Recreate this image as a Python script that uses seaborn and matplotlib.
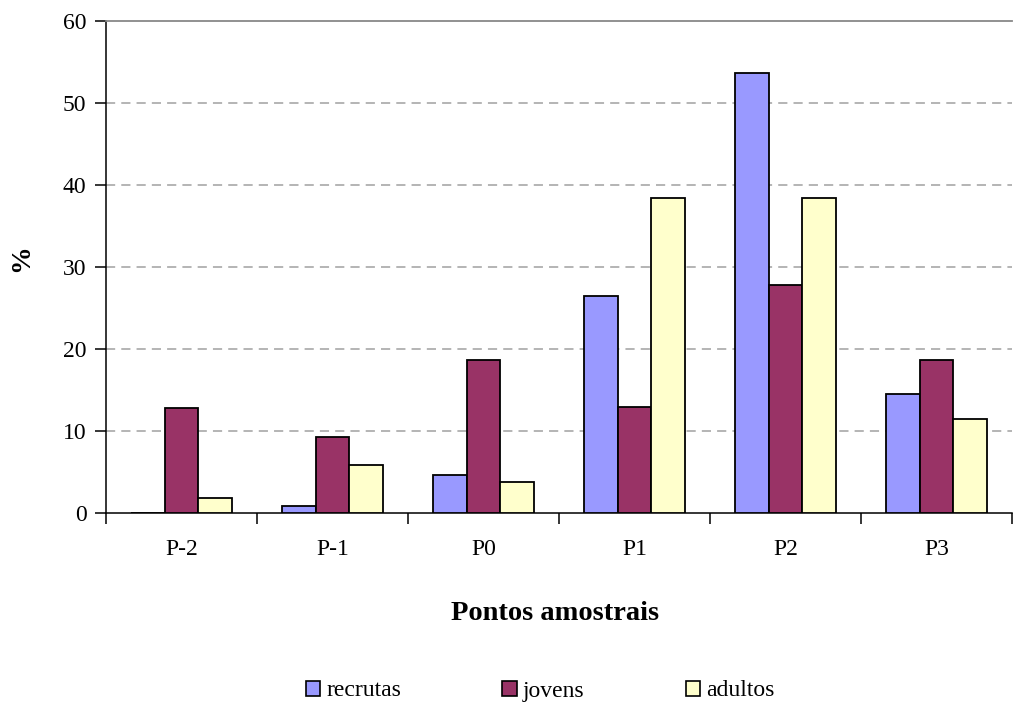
import matplotlib
matplotlib.use("Agg")
import matplotlib.pyplot as plt
import seaborn as sns
import pandas as pd
import numpy as np

# Sampling points and the share (%) of each size class
pontos = ["P-2", "P-1", "P0", "P1", "P2", "P3"]
classes = ["recrutas", "jovens", "adultos"]
recrutas = [0.0, 0.9, 4.6, 26.5, 53.7, 14.5]
jovens = [12.8, 9.3, 18.6, 12.9, 27.8, 18.6]
adultos = [1.8, 5.8, 3.8, 38.4, 38.4, 11.5]
cores = ["#9999FF", "#993366", "#FFFFCC"]

df = pd.DataFrame({
    "ponto": pontos * 3,
    "classe": [c for c in classes for _ in pontos],
    "valor": recrutas + jovens + adultos,
})

sns.set_style("white")
plt.rcParams["font.family"] = ["Liberation Serif", "DejaVu Serif"]
plt.rcParams["text.color"] = "black"
plt.rcParams["xtick.color"] = "black"
plt.rcParams["ytick.color"] = "black"
plt.rcParams["axes.labelcolor"] = "black"

fig = plt.figure(figsize=(10.13, 7.02), dpi=100)
ax = fig.add_axes([106 / 1013, 1 - 513 / 702, 906 / 1013, 492 / 702])

sns.barplot(data=df, x="ponto", y="valor", hue="classe", order=pontos,
            hue_order=classes, palette=cores, width=0.675, dodge=True,
            edgecolor="black", linewidth=1.3, saturation=1, ax=ax,
            legend=False, zorder=3)

ax.set_xlim(-0.5, len(pontos) - 0.5)
ax.set_ylim(0, 60)
ax.set_yticks(np.arange(0, 61, 10))

# dashed horizontal grid
for v in range(10, 60, 10):
    ax.axhline(v, color="#a0a0a0", lw=1.1, ls=(0, (6, 4)), zorder=1)

# ticks at category boundaries, labels at centres
ax.set_xticks(np.arange(len(pontos)))
ax.set_xticklabels(pontos)
ax.set_xticks(np.arange(-0.5, len(pontos), 1.0), minor=True)
ax.tick_params(axis="x", which="major", length=0, pad=19, labelsize=17)
ax.tick_params(axis="x", which="minor", length=8, width=1.1, color="black",
               direction="out", bottom=True)
ax.tick_params(axis="y", which="major", length=8, width=1.1, color="black",
               direction="out", left=True, pad=6, labelsize=17)

for s in ["left", "bottom"]:
    ax.spines[s].set_color("black")
    ax.spines[s].set_linewidth(1.1)
ax.spines["top"].set_color("#888888")
ax.spines["top"].set_linewidth(1.3)
ax.spines["right"].set_visible(False)

ax.set_xlabel("Pontos amostrais", fontsize=20.5, fontweight="bold")
ax.xaxis.set_label_coords((555 - 106) / 906, (513 - 613) / 492)
ax.xaxis.label.set_va("center")
ax.set_ylabel("%", fontsize=20, fontweight="bold")
ax.yaxis.set_label_coords((22 - 106) / 906, (513 - 258) / 492)
ax.yaxis.label.set_va("center")

handles = [plt.Rectangle((0, 0), 1, 1, facecolor=c, edgecolor="black", lw=1.2)
           for c in cores]
fig.legend(handles, classes, loc="center", bbox_to_anchor=(540 / 1013, 1 - 691 / 702),
           ncol=3, frameon=False, fontsize=17, handlelength=0.6,
           handleheight=0.6, handletextpad=0.25, columnspacing=4.3)

fig.savefig("out.png", dpi=100)
